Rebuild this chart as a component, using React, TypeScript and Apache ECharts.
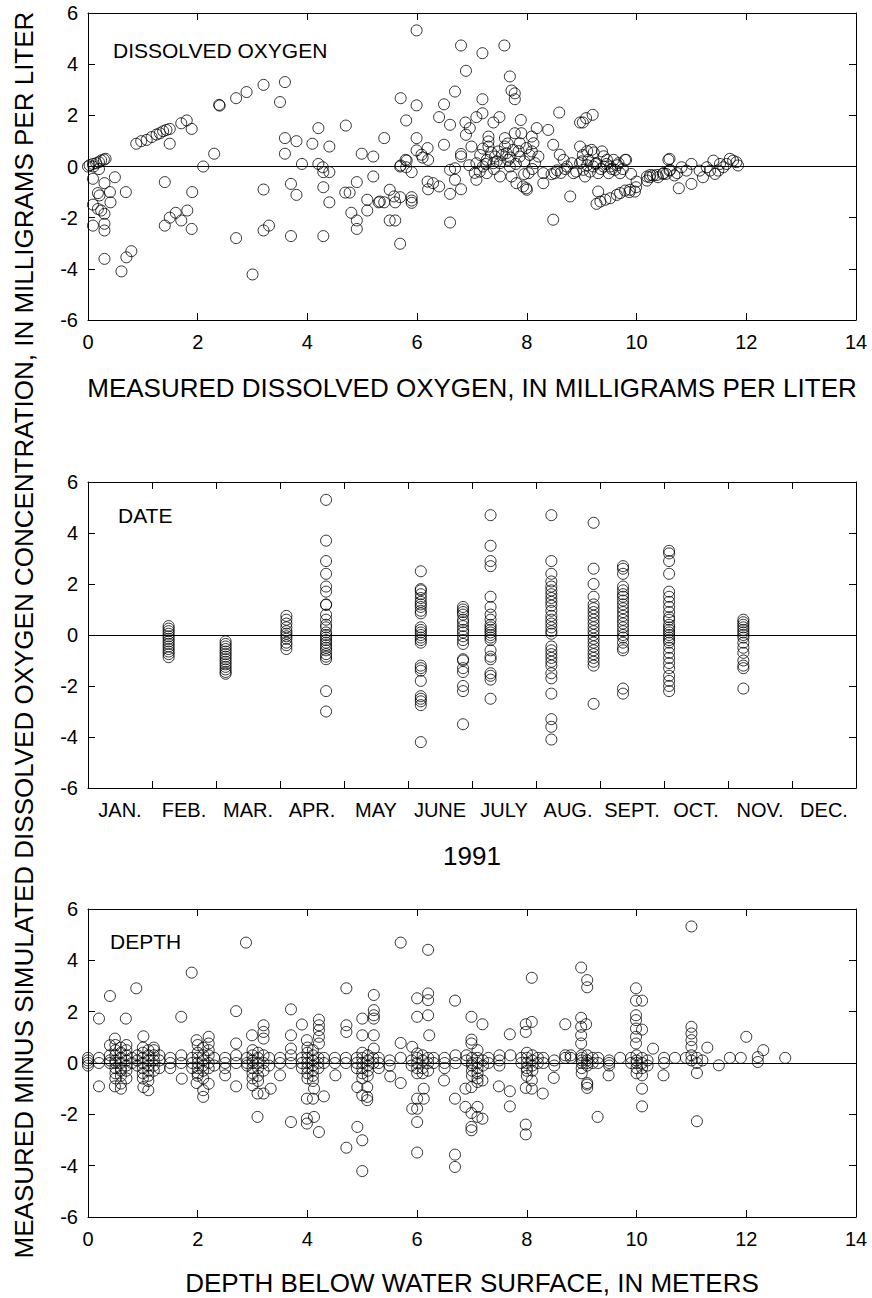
import React, { useEffect, useRef } from "react";
import * as echarts from "echarts";

const FONT = '"Liberation Sans", Arial, Helvetica, sans-serif';
const W = 872;
const H = 1298;

// ---------- text ----------
const panelLabels = ["DISSOLVED OXYGEN", "DATE", "DEPTH"];
const xTitles = [
  "MEASURED DISSOLVED OXYGEN, IN MILLIGRAMS PER LITER",
  "1991",
  "DEPTH BELOW WATER SURFACE, IN METERS",
];
const yTitle =
  "MEASURED MINUS SIMULATED DISSOLVED OXYGEN CONCENTRATION, IN MILLIGRAMS PER LITER";
const monthLabels = ["JAN.", "FEB.", "MAR.", "APR.", "MAY", "JUNE", "JULY", "AUG.", "SEPT.", "OCT.", "NOV.", "DEC."];

// ---------- axis ranges ----------
const residualRange = { min: -6, max: 6, interval: 2 };
const measuredRange = { min: 0, max: 14, interval: 2 };
const monthRange = { min: 0, max: 12, interval: 1 };
const depthRange = { min: 0, max: 14, interval: 2 };

// ---------- panel 1: residual vs measured DO (mg/L) ----------
const doPoints: number[][] = [
  [0.0, 0.0], [0.03, 0.05], [0.09, 0.1], [0.15, 0.13], [0.2, 0.17], [0.24, 0.24], [0.29, 0.27], [0.32, 0.3], [0.1, 0.0], [0.2, -0.1],
  [0.09, -0.48], [0.49, -0.42], [0.3, -0.65], [0.09, -1.49], [0.18, -1.04], [0.21, -1.13], [0.4, -1.0], [0.41, -1.4], [0.18, -1.66], [0.24, -1.72],
  [0.3, -1.85], [0.09, -2.31], [0.3, -2.24], [0.3, -2.5], [0.3, -3.61], [0.61, -4.1], [0.7, -3.55], [0.79, -3.31], [0.69, -1.0],
  [0.88, 0.89], [0.97, 0.99], [1.07, 1.04], [1.16, 1.15], [1.25, 1.25], [1.31, 1.3], [1.37, 1.38], [1.43, 1.43], [1.49, 1.47], [1.49, 0.89],
  [1.7, 1.69], [1.8, 1.8], [1.89, 1.47],
  [1.4, -0.61], [1.4, -2.31], [1.49, -2.0], [1.6, -1.81], [1.7, -2.11], [1.81, -1.72], [1.89, -2.44], [1.9, -1.0], [2.1, 0.0], [2.3, 0.5],
  [2.39, 2.41], [2.4, 2.38], [2.7, 2.67], [2.89, 2.91], [3.2, 3.19], [3.5, 2.52], [3.59, 3.3], [3.59, 1.11], [3.59, 0.5], [3.8, 0.99], [3.9, 0.1],
  [2.7, -2.8], [3.0, -4.22], [3.2, -0.9], [3.2, -2.5], [3.3, -2.31], [3.7, -0.68], [3.8, -1.11], [3.7, -2.72],
  [4.09, 0.89], [4.2, 1.5], [4.2, 0.1], [4.28, -0.03], [4.29, -0.22], [4.4, -0.22], [4.4, 0.78], [4.29, -0.81], [4.4, -1.4], [4.29, -2.72],
  [4.69, -1.02], [4.77, -1.02], [4.7, 1.6], [4.8, -1.81], [4.9, -2.11], [4.9, -2.44], [4.9, -0.61], [4.99, 0.5], [5.2, 0.39], [5.09, -1.3],
  [5.09, -1.72], [5.2, -0.39], [5.3, -1.4], [5.4, -1.4], [5.4, 1.11], [5.5, -0.91], [5.5, -2.11], [5.6, -2.11], [5.6, -1.4], [5.69, -1.2],
  [5.69, -3.02], [5.69, 0.0], [5.8, -0.03], [5.7, 2.67], [5.8, 1.8], [5.81, 0.23], [5.9, -0.22], [5.9, -1.2], [5.9, -1.33], [5.9, -1.42],
  [5.99, 5.32], [5.99, 2.39], [5.99, 1.11], [5.99, 0.63],
  [6.8, 4.73], [7.19, 4.43], [7.59, 4.73], [6.89, 3.74], [7.69, 3.52], [6.69, 2.93], [7.72, 2.97], [7.78, 2.86], [7.78, 2.63], [6.49, 2.43],
  [7.19, 2.63], [6.4, 1.93], [6.6, 1.63], [6.88, 1.72], [7.08, 1.93], [7.19, 2.08], [7.39, 1.72], [7.5, 1.93], [7.89, 1.82], [8.18, 1.5],
  [8.39, 1.43], [8.59, 2.11], [8.97, 1.72], [9.02, 1.72], [9.08, 1.89], [9.2, 2.02],
  [6.49, 0.85], [6.19, 0.72], [6.08, 0.46], [6.1, 0.35], [6.2, 0.26], [5.79, 0.26], [5.7, 0.04], [6.19, -0.59], [6.29, -0.65], [6.4, -0.78],
  [6.2, -0.89], [6.8, 0.49], [6.8, 0.39], [6.6, -0.13], [6.69, -0.07], [6.69, -0.52], [6.8, -0.89], [6.6, -1.07], [6.6, -2.19], [5.58, -1.17], [5.32, -1.37],
  [6.89, 1.24], [6.96, 1.5], [6.99, 0.78], [7.08, 0.13], [7.14, -0.2], [7.08, -0.52], [7.2, 0.0], [7.27, -0.26], [7.27, 0.26], [7.3, 0.78],
  [7.3, 1.17], [7.3, 0.98], [7.39, 0.13], [7.42, 0.39], [7.48, 0.59], [7.51, 0.13], [7.51, -0.39], [7.6, 0.78], [7.6, 1.11], [7.63, 0.52],
  [7.66, 0.26], [7.69, 0.0], [7.72, -0.39], [7.75, 0.65], [7.78, 1.3], [7.81, -0.65], [7.87, 0.91], [7.87, 0.39], [7.9, 1.3], [7.93, -0.78],
  [7.99, -0.85], [8.0, -0.91], [8.03, -0.26], [7.99, 0.72], [8.09, 1.17], [8.09, 0.59], [8.12, 0.91], [8.15, 0.13], [8.21, 0.39], [8.3, -0.26],
  [8.3, -0.65], [8.48, 0.85], [8.51, -0.26], [8.6, 0.46], [8.67, 0.26], [8.79, -1.17], [8.48, -2.08],
  [7.15, 0.45], [7.2, 0.7], [7.35, 0.55], [7.45, 0.2], [7.55, 0.45], [7.65, 0.9], [7.7, 0.35], [7.8, 0.1], [7.85, 0.6], [7.95, 0.2],
  [8.05, 0.45], [8.1, -0.1], [7.4, -0.1], [7.25, 0.1], [7.05, -0.25], [6.95, 0.05], [7.95, -0.3],
  [8.73, 0.0], [8.82, 0.13], [8.85, -0.26], [8.97, 0.78], [8.97, 0.13], [9.03, -0.13], [9.06, -0.39], [9.12, 0.26], [9.18, 0.65], [9.21, 0.0],
  [9.27, 0.13], [9.3, -0.26], [9.37, 0.59], [9.4, 0.0], [9.46, 0.26], [9.49, -0.26], [9.52, 0.0], [9.58, 0.26], [9.61, -0.13], [9.67, 0.13],
  [9.7, -0.26], [9.79, 0.26],
  [8.45, -0.3], [8.55, -0.15], [8.62, -0.25], [8.7, -0.1], [8.9, -0.2], [9.0, 0.2], [9.1, 0.05], [9.15, -0.2], [9.25, 0.1], [9.35, -0.1],
  [9.45, 0.1], [9.55, -0.1], [9.65, 0.05], [9.75, -0.1], [9.02, 0.45], [9.1, 0.6], [9.22, 0.55], [9.4, 0.4],
  [9.3, -0.98], [9.27, -1.46], [9.34, -1.37], [9.43, -1.3], [9.52, -1.24], [9.64, -1.11], [9.7, -1.04], [9.79, -0.94], [9.88, -0.91], [9.97, -0.98],
  [10.0, -0.59], [10.19, -0.39], [10.25, -0.33], [10.37, -0.33], [10.49, -0.26], [10.58, 0.26], [10.61, -0.13], [10.74, -0.26], [10.77, -0.85],
  [9.81, 0.26], [9.9, -0.29], [9.99, -0.81], [9.87, -1.0], [10.19, -0.55], [10.24, -0.42], [10.3, -0.35], [10.39, -0.42], [10.48, -0.29], [10.54, -0.29],
  [10.6, 0.3], [10.6, -0.16], [10.69, -0.35], [10.82, -0.03], [10.91, -0.16], [11.0, 0.1], [11.0, -0.68], [11.15, -0.16], [11.21, -0.42], [11.28, -0.03],
  [11.34, -0.16], [11.4, 0.23], [11.43, -0.29], [11.49, -0.16], [11.52, 0.1], [11.58, -0.03], [11.64, 0.1], [11.7, 0.3], [11.76, 0.23], [11.82, 0.17], [11.85, 0.04],
];

// ---------- panel 2: residual vs sampling date (months from Jan 1, 1991) ----------
const dateColumnX = [1.26, 2.15, 3.1, 3.72, 5.2, 5.86, 6.29, 7.24, 7.9, 8.36, 9.08, 10.24];
const dateColumnValues: number[][] = [
  [0.35, 0.25, 0.15, 0.05, -0.05, -0.15, -0.25, -0.35, -0.45, -0.55, -0.65, -0.75, -0.87],
  [-0.25, -0.35, -0.45, -0.55, -0.65, -0.75, -0.85, -0.95, -1.05, -1.15, -1.25, -1.35, -1.45, -1.52],
  [0.75, 0.6, 0.45, 0.3, 0.15, 0.05, -0.05, -0.15, -0.3, -0.4, -0.55],
  [5.3, 3.7, 2.9, 2.4, 1.9, 1.7, 1.2, 1.18, 0.8, 0.6, 0.4, 0.3, 0.1, 0.0, -0.1, -0.2, -0.3, -0.4, -0.5, -0.6, -0.75, -0.85, -0.95, -2.2, -3.0],
  [2.5, 1.8, 1.75, 1.6, 1.45, 1.3, 1.2, 1.1, 0.95, 0.85, 0.3, 0.2, 0.1, 0.0, -0.1, -0.2, -0.3, -1.2, -1.3, -1.4, -1.8, -2.4, -2.5, -2.6, -2.75, -4.2],
  [1.1, 1.0, 0.9, 0.8, 0.6, 0.5, 0.35, 0.2, 0.1, -0.05, -0.2, -0.35, -0.95, -1.0, -1.3, -1.45, -2.0, -2.2, -3.5],
  [4.7, 3.5, 2.9, 2.7, 1.5, 1.1, 0.8, 0.6, 0.4, 0.3, 0.2, 0.1, 0.0, -0.1, -0.2, -0.6, -0.85, -0.95, -1.5, -1.6, -1.75, -2.5],
  [4.7, 2.9, 2.4, 2.1, 1.9, 1.75, 1.6, 1.45, 1.3, 1.15, 0.95, 0.75, 0.6, 0.45, 0.3, 0.15, 0.05, -0.45, -0.6, -0.75, -0.9, -1.05, -1.2, -1.5, -1.7, -2.3, -3.3, -3.6, -4.1],
  [4.4, 2.6, 2.0, 1.5, 1.2, 1.05, 0.9, 0.75, 0.6, 0.45, 0.3, 0.15, 0.0, -0.15, -0.3, -0.45, -0.6, -0.75, -0.9, -1.05, -1.2, -2.7],
  [2.7, 2.6, 2.4, 1.9, 1.75, 1.6, 1.5, 1.35, 1.2, 1.05, 0.9, 0.75, 0.6, 0.45, 0.3, 0.15, 0.0, -0.1, -0.3, -0.5, -0.6, -2.1, -2.3],
  [3.3, 3.2, 2.9, 2.4, 1.7, 1.5, 1.3, 1.1, 0.9, 0.7, 0.6, 0.4, 0.3, 0.2, 0.1, 0.0, -0.1, -0.2, -0.3, -0.5, -0.7, -0.9, -1.1, -1.3, -1.6, -1.8, -2.0, -2.2],
  [0.6, 0.5, 0.4, 0.3, 0.2, 0.1, 0.0, -0.1, -0.3, -0.5, -0.7, -1.0, -1.2, -1.3, -2.1],
];

// ---------- panel 3: residual vs depth (m) ----------
const depthOutliers: number[][] = [
  [2.88, 4.69], [1.89, 3.52], [0.88, 2.91], [0.4, 2.61], [0.2, 1.73], [0.69, 1.73], [1.7, 1.8], [2.7, 2.02], [3.7, 2.09], [4.71, 2.91],
  [5.7, 4.69], [6.2, 4.41], [6.0, 2.52], [6.2, 2.71], [6.2, 2.45], [6.0, 1.8], [6.2, 1.86], [6.22, 1.08], [5.21, 2.65], [5.21, 2.06],
  [5.21, 1.86], [5.21, 1.73], [5.0, 1.73], [4.71, 1.47], [4.71, 1.21], [5.0, 1.08], [5.21, 1.08], [5.21, 0.56], [4.21, 1.69], [4.21, 1.47],
  [4.21, 1.28], [4.21, 1.02], [4.21, 0.76], [3.99, 0.89], [3.9, 1.5], [3.7, 1.08], [3.7, 0.56], [3.2, 1.47], [3.2, 1.21], [3.2, 0.95],
  [2.99, 1.08], [2.7, 0.76], [1.98, 0.89], [2.2, 1.02], [2.2, 0.76], [1.01, 1.04], [0.49, 0.95], [0.4, 0.69], [5.7, 0.78], [5.91, 0.63], [6.0, 0.37],
  [11.0, 5.32], [8.99, 3.72], [9.1, 3.23], [9.1, 2.95], [8.09, 3.32], [9.99, 2.91], [9.99, 2.43], [10.1, 2.43], [6.69, 2.43], [6.99, 1.8],
  [7.19, 1.51], [7.69, 1.12], [7.98, 1.51], [8.09, 1.6], [7.98, 1.21], [8.7, 1.51], [8.99, 1.76], [8.99, 1.41], [9.08, 1.51], [8.99, 1.08],
  [8.99, 0.76], [9.99, 1.86], [9.99, 1.67], [9.99, 1.34], [10.1, 1.3], [9.99, 1.02], [9.99, 0.76], [10.3, 0.56], [11.0, 1.41], [11.0, 1.15],
  [11.0, 0.89], [11.0, 0.63], [11.29, 0.6], [12.0, 1.02], [12.31, 0.5], [12.71, 0.2], [12.21, 0.04], [12.21, 0.23], [11.9, 0.2], [11.7, 0.2],
  [11.5, -0.09], [6.99, 0.91], [6.99, 0.76], [7.1, 0.5],
  [6.69, -3.57], [6.69, -4.05], [6.99, -2.49], [6.99, -2.62], [7.19, -2.17], [7.1, -2.1], [6.88, -1.71], [7.1, -1.71], [6.99, -1.95], [6.88, -1.0],
  [6.69, -1.39], [6.99, -0.94], [7.1, -0.74], [7.19, -0.68], [7.49, -0.91], [7.69, -1.1], [7.69, -1.69], [6.49, -0.68], [7.98, -2.4], [7.98, -2.78],
  [7.98, -0.97], [8.09, -1.0], [8.09, -0.68], [8.29, -1.19], [8.49, -0.58], [9.29, -2.1], [9.1, -0.84], [9.1, -0.97], [9.1, -0.78], [9.49, -0.48],
  [10.1, -1.69], [10.1, -1.0], [10.1, -0.48], [10.49, -0.48], [11.1, -0.39], [11.1, -2.27],
  [5.0, -4.21], [5.0, -3.01], [4.91, -2.49], [4.71, -3.3], [6.0, -3.49], [6.0, -2.3], [5.91, -1.78], [6.0, -1.78], [6.0, -1.39], [6.12, -1.39],
  [6.12, -1.0], [4.21, -2.69], [4.12, -2.1], [3.99, -2.36], [3.99, -2.17], [3.7, -2.3], [3.09, -2.1], [3.99, -1.39], [4.1, -1.39], [4.3, -1.3],
  [5.0, -1.26], [5.09, -1.45], [5.09, -1.32], [4.91, -0.94], [5.09, -0.94], [4.12, -1.0], [3.09, -1.19], [3.2, -1.19], [3.33, -1.0], [3.0, -0.87],
  [2.1, -1.32], [2.1, -1.06], [2.2, -0.81], [1.98, -0.78], [2.7, -0.91], [1.71, -0.61], [1.1, -1.06], [1.01, -0.94], [0.6, -1.0], [0.49, -0.91],
  [0.2, -0.91], [3.5, -0.48], [4.51, -0.48], [5.51, -0.52], [5.7, -0.78], [2.5, -0.48],
];
const depthClusterDepths = [
  0.0, 0.2, 0.4, 0.5, 0.6, 0.7, 0.8, 0.9, 1.0, 1.1, 1.2, 1.3, 1.5, 1.7, 1.9, 2.0, 2.1, 2.2, 2.3, 2.5,
  2.7, 2.9, 3.0, 3.1, 3.2, 3.3, 3.5, 3.7, 3.9, 4.0, 4.1, 4.2, 4.3, 4.5, 4.7, 4.9, 5.0, 5.1, 5.2, 5.3,
  5.5, 5.7, 5.9, 6.0, 6.1, 6.2, 6.3, 6.5, 6.7, 6.9, 7.0, 7.1, 7.2, 7.3, 7.5, 7.7, 7.9, 8.0, 8.1, 8.2,
  8.3, 8.5, 8.7, 8.8, 9.0, 9.1, 9.2, 9.3, 9.5, 9.7, 9.9, 10.0, 10.1, 10.2, 10.5, 10.7, 10.9, 11.0, 11.1, 11.2,
];
const depthClusterValues: number[][] = [
  [0.2, 0.0, -0.1, 0.1], [0.2, 0.0], [0.3, 0.1, 0.0], [0.7, 0.5, 0.3, 0.1, 0.0, -0.2, -0.4, -0.6], [0.6, 0.4, 0.2, 0.0, -0.2, -0.3, -0.5, -0.8],
  [0.7, 0.5, 0.3, 0.1, -0.1, -0.3, -0.6], [0.2, 0.0], [0.3, 0.1, -0.1], [0.6, 0.4, 0.2, 0.0, -0.2, -0.4, -0.6], [0.5, 0.3, 0.1, -0.1, -0.3, -0.5, -0.7],
  [0.6, 0.5, 0.3, 0.1, -0.1, -0.3], [0.3, 0.1, -0.2], [0.2, 0.0, -0.2], [0.3, 0.0], [0.2, 0.0, -0.2],
  [0.7, 0.4, 0.2, 0.0, -0.2, -0.4, -0.5], [0.6, 0.3, 0.1, -0.1, -0.3, -0.6], [0.5, 0.3, 0.0, -0.2], [0.2, -0.1], [0.2, 0.0, -0.2],
  [0.3, 0.0], [0.2, 0.0, -0.1], [0.5, 0.3, 0.1, 0.0, -0.2, -0.4, -0.6], [0.4, 0.2, 0.0, -0.2, -0.5, -0.7], [0.3, 0.0, -0.3],
  [0.2, -0.1], [0.2, 0.0], [0.3, 0.0], [0.2, 0.0, -0.2], [0.6, 0.4, 0.2, 0.0, -0.2, -0.4, -0.6],
  [0.5, 0.3, 0.1, -0.1, -0.3, -0.5, -0.7], [0.2, 0.0, -0.2], [0.2, 0.0], [0.2, 0.0], [0.2, 0.0],
  [0.2, 0.0, -0.2], [0.4, 0.2, 0.0, -0.2, -0.4, -0.6], [0.3, 0.1, -0.1, -0.3, -0.5], [0.2, 0.0], [0.2, 0.0, -0.2],
  [0.1, -0.1], [0.2], [0.1, -0.1], [0.2, 0.0, -0.2, -0.4], [0.3, 0.1, -0.2, -0.4],
  [0.2, 0.0, -0.3], [0.2, 0.0], [0.2, 0.0, -0.2], [0.3, 0.0], [0.3, 0.1],
  [0.2, 0.0, -0.1, -0.3, -0.5], [0.2, 0.0, -0.2, -0.4, -0.6], [0.1, -0.1], [0.2, 0.0], [0.3, 0.1, -0.1],
  [0.3], [0.2, 0.0], [0.4, 0.2, 0.0, -0.2, -0.3, -0.5], [0.3, 0.1, -0.1, -0.3], [0.2, 0.0],
  [0.2, 0.0], [0.1, -0.1], [0.3, 0.2], [0.3, 0.2], [0.3, 0.2, 0.1, 0.0, -0.2, -0.4],
  [0.3, 0.1, 0.0, -0.1], [0.2, 0.0], [0.2, 0.0], [0.1, 0.0, -0.1], [0.2],
  [0.2, 0.0], [0.3, 0.1, 0.0, -0.2, -0.4], [0.2, 0.0, -0.2], [0.1, -0.1], [0.2, 0.0],
  [0.2], [0.2], [0.3, 0.1], [0.2, 0.0], [0.1],
];

// ---------- layout ----------
const gridLeft = 88;
const gridRight = 16;
const grids = [
  { top: 13, height: 307 },
  { top: 482, height: 306 },
  { top: 909, height: 308 },
];

const black = "#000";
const frameLine = { show: true, onZero: false, lineStyle: { color: black, width: 1 } };
const inTicks = { show: true, inside: true, length: 7, lineStyle: { color: black, width: 1 } };
const tickFont = { color: black, fontSize: 20, fontFamily: FONT };
const titleFont = { color: black, fontSize: 26, fontFamily: FONT };

function valueAxis(gridIndex: number, position: string, r: { min: number; max: number; interval: number }, labels: boolean, extra: any = {}) {
  return {
    type: "value",
    gridIndex,
    position,
    min: r.min,
    max: r.max,
    interval: r.interval,
    axisLine: frameLine,
    axisTick: inTicks,
    splitLine: { show: false },
    axisLabel: labels ? { show: true, margin: position === "bottom" ? 12 : 10, ...tickFont } : { show: false },
    ...extra,
  };
}

const circleStyle = { color: "rgba(0,0,0,0)", borderColor: black, borderWidth: 1 };
const zeroLine = {
  silent: true,
  symbol: ["none", "none"],
  label: { show: false },
  lineStyle: { color: black, width: 1, type: "solid" },
  data: [{ yAxis: 0 }],
};

function scatter(xi: number, yi: number, data: number[][]) {
  return {
    type: "scatter",
    xAxisIndex: xi,
    yAxisIndex: yi,
    data,
    symbol: "circle",
    symbolSize: 11,
    itemStyle: circleStyle,
    emphasis: { disabled: true },
    markLine: zeroLine,
  };
}

function buildOption() {
  const datePoints: number[][] = [];
  dateColumnX.forEach((x, i) => dateColumnValues[i].forEach((v) => datePoints.push([x, v])));
  const depthPoints: number[][] = [...depthOutliers];
  depthClusterDepths.forEach((d, i) => depthClusterValues[i].forEach((v) => depthPoints.push([d, v])));

  const panelLabelPos = [
    { x: 113, y: 50 },
    { x: 118, y: 515 },
    { x: 110, y: 941 },
  ];

  return {
    animation: false,
    backgroundColor: "#fff",
    grid: grids.map((g) => ({ left: gridLeft, right: gridRight, top: g.top, height: g.height, containLabel: false })),
    xAxis: [
      valueAxis(0, "bottom", measuredRange, true, {
        name: xTitles[0], nameLocation: "middle", nameGap: 55, nameTextStyle: titleFont,
      }),
      valueAxis(0, "top", measuredRange, false),
      valueAxis(1, "bottom", monthRange, false),
      valueAxis(1, "top", monthRange, false),
      {
        type: "category",
        gridIndex: 1,
        position: "bottom",
        data: monthLabels,
        boundaryGap: true,
        axisLine: { show: false, onZero: false },
        axisTick: { show: false },
        splitLine: { show: false },
        axisLabel: { show: true, margin: 12, interval: 0, ...tickFont },
        name: xTitles[1], nameLocation: "middle", nameGap: 55, nameTextStyle: titleFont,
      },
      valueAxis(2, "bottom", depthRange, true, {
        name: xTitles[2], nameLocation: "middle", nameGap: 53, nameTextStyle: titleFont,
      }),
      valueAxis(2, "top", depthRange, false),
    ],
    yAxis: [
      valueAxis(0, "left", residualRange, true),
      valueAxis(0, "right", residualRange, false),
      valueAxis(1, "left", residualRange, true),
      valueAxis(1, "right", residualRange, false),
      valueAxis(2, "left", residualRange, true),
      valueAxis(2, "right", residualRange, false),
    ],
    series: [scatter(0, 0, doPoints), scatter(2, 2, datePoints), scatter(5, 4, depthPoints)],
    graphic: [
      ...panelLabels.map((t, i) => ({
        type: "text",
        x: panelLabelPos[i].x,
        y: panelLabelPos[i].y,
        silent: true,
        style: {
          text: t, fill: black, fontSize: 21, fontFamily: FONT,
          textAlign: "left", align: "left", textVerticalAlign: "middle", verticalAlign: "middle",
        },
      })),
      {
        type: "text",
        x: 24,
        y: 635,
        rotation: Math.PI / 2,
        silent: true,
        style: {
          text: yTitle, fill: black, fontSize: 26, fontFamily: FONT,
          textAlign: "center", align: "center", textVerticalAlign: "middle", verticalAlign: "middle",
        },
      },
    ],
  };
}

export default function App() {
  const ref = useRef<HTMLDivElement>(null);
  useEffect(() => {
    document.body.style.margin = "0";
    if (!ref.current) return;
    const chart = echarts.init(ref.current, undefined, { renderer: "svg", width: W, height: H });
    chart.setOption(buildOption() as any);
    return () => chart.dispose();
  }, []);
  return <div ref={ref} style={{ width: W, height: H, background: "#fff" }} />;
}
